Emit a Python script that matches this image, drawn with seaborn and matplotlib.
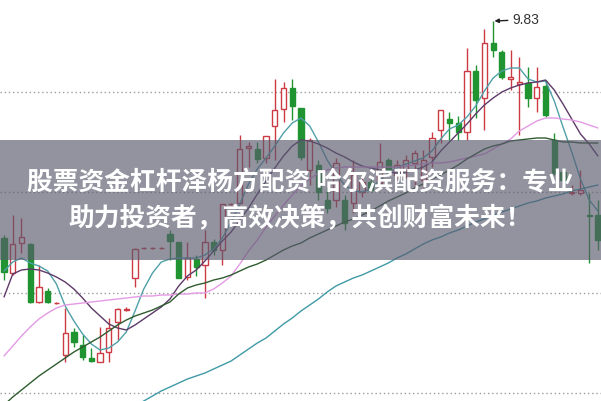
import numpy as np
import pandas as pd
import matplotlib
matplotlib.use('Agg')
import matplotlib.pyplot as plt
from matplotlib.patches import Rectangle
import seaborn as sns

# daily candles (price units)
opens = [7.66, 7.31, 7.61, 7.60, 7.02, 7.13, 7.01, 6.49, 6.72, 6.59,
         6.46, 6.42, 6.52, 6.82, 6.94, 7.26, 7.56, 7.56, 7.56, 7.70,
         7.62, 7.27, 7.45, 7.39, 7.62, 7.54, 8.00, 8.01, 8.56, 8.55,
         8.46, 8.78, 8.95, 9.16, 8.96, 8.34, 8.39, 8.04, 8.04, 8.04,
         8.01, 8.12, 8.22, 8.21, 8.44, 8.29, 8.34, 8.41, 8.24, 8.47,
         8.74, 8.85, 8.81, 8.72, 9.33, 9.06, 9.61, 9.52, 9.25, 9.20,
         9.21, 9.06, 9.18, 8.64, 8.32, 8.11, 8.11, 7.89, 7.89]
highs = [7.69, 7.89, 7.86, 7.61, 7.39, 7.16, 7.02, 6.96, 6.76, 6.69,
         6.56, 6.77, 6.86, 6.96, 6.97, 7.56, 7.57, 7.57, 7.57, 7.74,
         7.62, 7.62, 7.49, 7.74, 7.65, 8.00, 8.01, 8.69, 8.62, 8.62,
         8.68, 9.25, 9.22, 9.25, 8.96, 8.66, 8.44, 8.17, 8.46, 8.09,
         8.44, 8.29, 8.26, 8.61, 8.46, 8.44, 8.49, 8.54, 8.54, 8.72,
         8.94, 8.92, 8.88, 9.56, 9.39, 9.75, 9.83, 9.54, 9.54, 9.47,
         9.37, 9.37, 9.24, 8.71, 8.36, 8.19, 8.34, 8.11, 8.04]
lows = [7.24, 7.29, 7.51, 7.01, 7.01, 7.01, 7.00, 6.42, 6.57, 6.44,
        6.42, 6.42, 6.42, 6.64, 6.93, 7.17, 7.55, 7.55, 7.55, 7.44,
        7.26, 7.24, 7.28, 7.06, 7.49, 7.39, 7.99, 8.00, 8.37, 8.41,
        8.41, 8.44, 8.82, 8.84, 8.44, 8.19, 8.04, 7.91, 7.97, 7.74,
        7.91, 8.07, 8.12, 8.17, 8.31, 8.24, 8.26, 8.17, 8.17, 8.37,
        8.61, 8.64, 8.64, 8.64, 8.86, 8.74, 9.47, 9.25, 9.14, 8.69,
        8.97, 8.92, 8.87, 8.29, 8.19, 8.09, 8.09, 7.41, 7.54]
closes = [7.32, 7.60, 7.67, 7.02, 7.17, 7.02, 7.01, 6.71, 6.62, 6.47,
          6.43, 6.51, 6.76, 6.95, 6.95, 7.55, 7.56, 7.56, 7.56, 7.63,
          7.26, 7.46, 7.37, 7.62, 7.54, 8.00, 8.00, 8.55, 8.58, 8.45,
          8.68, 8.94, 9.16, 8.98, 8.47, 8.64, 8.12, 7.96, 8.41, 7.81,
          8.29, 8.22, 8.14, 8.42, 8.34, 8.39, 8.44, 8.51, 8.44, 8.66,
          8.94, 8.81, 8.72, 9.33, 9.04, 9.61, 9.54, 9.27, 9.27, 9.22,
          9.06, 9.17, 8.89, 8.31, 8.24, 8.12, 8.14, 7.88, 7.64]

# moving averages
ma5 = [7.33, 7.42, 7.46, 7.41, 7.38, 7.33, 7.20, 6.98, 6.83, 6.70,
       6.60, 6.54, 6.56, 6.62, 6.72, 6.93, 7.15, 7.31, 7.42, 7.45,
       7.46, 7.46, 7.46, 7.49, 7.55, 7.66, 7.82, 8.00, 8.20, 8.35,
       8.46, 8.58, 8.71, 8.81, 8.86, 8.78, 8.62, 8.44, 8.30, 8.19,
       8.13, 8.12, 8.15, 8.24, 8.31, 8.36, 8.40, 8.43, 8.46, 8.53,
       8.65, 8.75, 8.79, 8.87, 8.98, 9.13, 9.26, 9.33, 9.36, 9.36,
       9.25, 9.22, 9.23, 9.03, 8.77, 8.52, 8.25, 8.04, 7.93]
ma10 = [7.07, 7.30, 7.34, 7.35, 7.34, 7.31, 7.27, 7.22, 7.15, 7.06,
        6.96, 6.88, 6.80, 6.76, 6.74, 6.79, 6.85, 6.91, 6.97, 7.05,
        7.18, 7.28, 7.34, 7.43, 7.53, 7.63, 7.72, 7.84, 7.96, 8.10,
        8.23, 8.36, 8.48, 8.58, 8.64, 8.63, 8.60, 8.56, 8.51, 8.47,
        8.42, 8.38, 8.36, 8.34, 8.32, 8.31, 8.32, 8.34, 8.37, 8.42,
        8.53, 8.62, 8.71, 8.80, 8.90, 8.99, 9.06, 9.12, 9.16, 9.19,
        9.21, 9.22, 9.24, 9.14, 9.00, 8.85, 8.70, 8.60, 8.48]
ma20 = [6.48, 6.58, 6.68, 6.77, 6.85, 6.91, 6.96, 6.99, 7.00, 7.01,
        7.02, 7.03, 7.04, 7.05, 7.06, 7.07, 7.08, 7.08, 7.09, 7.09,
        7.10, 7.10, 7.11, 7.11, 7.15, 7.21, 7.28, 7.40, 7.53, 7.64,
        7.77, 7.88, 7.99, 8.09, 8.18, 8.25, 8.31, 8.34, 8.36, 8.37,
        8.37, 8.37, 8.37, 8.37, 8.37, 8.37, 8.38, 8.39, 8.40, 8.41,
        8.41, 8.42, 8.44, 8.46, 8.48, 8.50, 8.55, 8.60, 8.65, 8.73,
        8.78, 8.83, 8.86, 8.86, 8.85, 8.84, 8.82, 8.79, 8.76]
ma30 = [5.99, 6.07, 6.14, 6.21, 6.28, 6.34, 6.40, 6.46, 6.52, 6.57,
        6.62, 6.67, 6.73, 6.79, 6.84, 6.88, 6.91, 6.94, 6.98, 7.02,
        7.10, 7.16, 7.19, 7.21, 7.24, 7.26, 7.29, 7.33, 7.37, 7.40,
        7.44, 7.49, 7.54, 7.58, 7.61, 7.66, 7.70, 7.74, 7.78, 7.82,
        7.85, 7.89, 7.93, 7.98, 8.03, 8.07, 8.11, 8.16, 8.20, 8.25,
        8.29, 8.34, 8.39, 8.45, 8.50, 8.55, 8.58, 8.60, 8.63, 8.64,
        8.65, 8.66, 8.66, 8.64, 8.62, 8.62, 8.61, 8.61, 8.61]
ma60 = [np.nan] * 15 + [
        5.98, 6.03, 6.08, 6.13, 6.17,
        6.21, 6.25, 6.28, 6.31, 6.35, 6.39, 6.43, 6.49, 6.55, 6.61,
        6.66, 6.73, 6.80, 6.86, 6.93, 6.99, 7.05, 7.12, 7.18, 7.22,
        7.26, 7.29, 7.33, 7.37, 7.41, 7.46, 7.50, 7.55, 7.60, 7.64,
        7.67, 7.71, 7.74, 7.78, 7.82, 7.85, 7.89, 7.92, 7.95, 7.98,
        8.01, 8.03, 8.06, 8.08, 8.10, 8.13, 8.15, 8.17, 8.19]

grid_levels = [9.12, 8.12, 7.11, 6.11]
peak_day = 56
peak_price = 9.83
peak_label = '9.83'
banner = ['股票资金杠杆泽杨方配资 哈尔滨配资服务：专业',
          '助力投资者，高效决策，共创财富未来！']

sns.set_theme(style='white')
plt.rcParams['font.family'] = ['Noto Sans CJK SC', 'DejaVu Sans']

df = pd.DataFrame({'day': np.arange(len(opens)), 'open': opens, 'high': highs,
                   'low': lows, 'close': closes})
df['up'] = df['close'] >= df['open']
df['bottom'] = df[['open', 'close']].min(axis=1)
df['body'] = (df['close'] - df['open']).abs()

RED = '#cc3a44'
GREEN = '#1f9430'

fig = plt.figure(figsize=(6.01, 4.01), dpi=100)
ax = fig.add_axes([0, 0, 1, 1])

for lvl in grid_levels:
    ax.axhline(lvl, color='#9c9c9c', lw=1, ls=(0, (1, 2)), zorder=0)

# candles
cols = np.where(df['up'], RED, GREEN)
faces = np.where(df['up'], 'white', GREEN)
ax.vlines(df['day'], df['low'], df['high'], colors=cols, lw=1, zorder=2)
ax.bar(df['day'], df['body'], bottom=df['bottom'], width=0.6, color=faces,
       edgecolor=cols, linewidth=1, zorder=3)

# moving averages
ma = pd.DataFrame({'day': df['day'], 'MA5': ma5, 'MA10': ma10, 'MA20': ma20,
                   'MA30': ma30, 'MA60': ma60})
ma_long = ma.melt(id_vars='day', var_name='ma', value_name='price').dropna()
ma_colors = {'MA5': '#4fa0a8', 'MA10': '#5e3a68', 'MA20': '#e49ae4',
             'MA30': '#2f5c30', 'MA60': '#3f9aa6'}
sns.lineplot(data=ma_long, x='day', y='price', hue='ma', palette=ma_colors,
             estimator=None, lw=1, legend=False, ax=ax, zorder=4)

ax.annotate(peak_label, xy=(peak_day + 0.15, peak_price), xytext=(13, 1),
            textcoords='offset points', ha='left', va='center',
            fontsize=10, color='#333333', family='Liberation Sans',
            arrowprops=dict(arrowstyle='-|>', color='#222222', lw=1,
                            mutation_scale=6, shrinkA=1, shrinkB=0))

# grey banner with the headline
ax.add_patch(Rectangle((0, 0.352), 1, 0.299, transform=ax.transAxes,
                       facecolor='#5a5a6e', alpha=0.65, lw=0, zorder=10))
ax.text(0.5, 0.544, banner[0], transform=ax.transAxes, ha='center', va='center',
        color='white', fontsize=18.5, fontweight='bold', zorder=11)
ax.text(0.5, 0.456, banner[1], transform=ax.transAxes, ha='center', va='center',
        color='white', fontsize=18.5, fontweight='bold', zorder=11)

ax.set_xlim(-0.46, 68.35)
ax.set_ylim(6.03, 10.04)
ax.axis('off')

fig.savefig('out.png', dpi=100)
